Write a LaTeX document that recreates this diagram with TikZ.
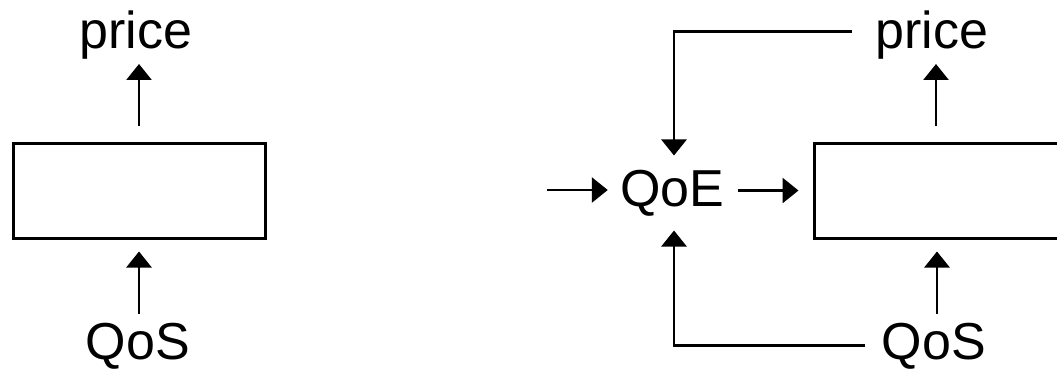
\documentclass[tikz,border=0pt]{standalone}
\usepackage{fontspec}
\setmainfont{Liberation Sans}
\usetikzlibrary{arrows.meta}
\begin{document}
\begin{tikzpicture}[x=1pt,y=-1pt,
  blk/.style={draw,line width=3pt,minimum width=252pt,minimum height=95pt,inner sep=0pt},
  lbl/.style={inner sep=0pt,anchor=base,font=\fontsize{52}{62}\selectfont},
  arr/.style={line width=2.8pt,-{Triangle[width=25pt,length=16pt]}}]
\useasboundingbox (0,0) rectangle (1057,368);
\clip (0,0) rectangle (1057,368);
% left part
\node[blk] (box1) at (139,190.5) {};
\node[lbl] (price1) at (136,48) {price};
\node[lbl] (qos1) at (138,359) {QoS};
\draw[arr,shorten <=16pt,shorten >=5pt] (box1.north) -- (box1.north |- price1.south);
\draw[arr,shorten <=9pt,shorten >=12pt] (box1.south |- qos1.north) -- (box1.south);
% right part
\node[blk] (box2) at (940,190.5) {};
\node[lbl] (qoe) at (672.5,206) {QoE};
\node[lbl] (price2) at (932,48) {price};
\node[lbl] (qos2) at (934,359) {QoS};
\coordinate (in) at (547,190);
\draw[arr,shorten >=12.5pt] (in) -- (in -| qoe.west);
\draw[arr,shorten <=13.5pt,shorten >=14pt] (box2.west -| qoe.east) -- (box2.west);
\draw[arr,shorten <=16pt,shorten >=5pt] ([xshift=-4pt]box2.north) -- ([xshift=-4pt]box2.north |- price2.south);
\draw[arr,shorten <=9pt,shorten >=12pt] ([xshift=-3pt]box2.south |- qos2.north) -- ([xshift=-3pt]box2.south);
\draw[arr,shorten >=14pt] ([xshift=-23pt,yshift=3pt]price2.west) -| ([xshift=1.5pt]qoe.north);
\draw[arr,shorten >=14.5pt] ([xshift=-17pt]qos2.west) -| ([xshift=1.5pt]qoe.south);
\end{tikzpicture}
\end{document}
